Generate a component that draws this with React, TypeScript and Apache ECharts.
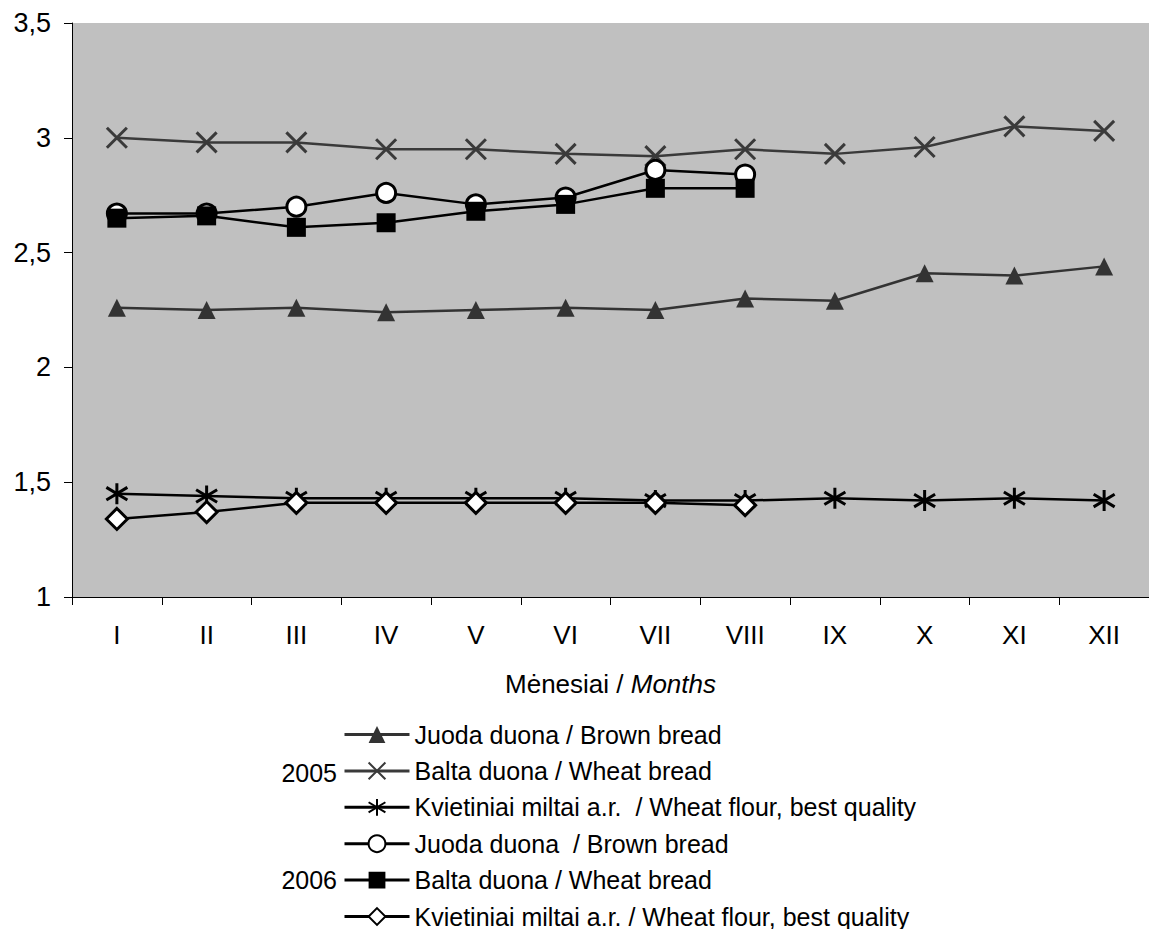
import React, { useEffect, useRef } from "react";
import * as echarts from "echarts";

const months = ["I", "II", "III", "IV", "V", "VI", "VII", "VIII", "IX", "X", "XI", "XII"];
const yTicks = { min: 1, max: 3.5, interval: 0.5 };

const brown2005 = [2.26, 2.25, 2.26, 2.24, 2.25, 2.26, 2.25, 2.30, 2.29, 2.41, 2.40, 2.44];
const wheat2005 = [3.00, 2.98, 2.98, 2.95, 2.95, 2.93, 2.92, 2.95, 2.93, 2.96, 3.05, 3.03];
const flour2005 = [1.45, 1.44, 1.43, 1.43, 1.43, 1.43, 1.42, 1.42, 1.43, 1.42, 1.43, 1.42];
const brown2006 = [2.67, 2.67, 2.70, 2.76, 2.71, 2.74, 2.86, 2.84];
const wheat2006 = [2.65, 2.66, 2.61, 2.63, 2.68, 2.71, 2.78, 2.78];
const flour2006 = [1.34, 1.37, 1.41, 1.41, 1.41, 1.41, 1.41, 1.40];

const names = [
  "Juoda duona / Brown bread",
  "Balta duona / Wheat bread",
  "Kvietiniai miltai a.r.  / Wheat flour, best quality",
  "Juoda duona  / Brown bread",
  "Balta duona / Wheat bread ",
  "Kvietiniai miltai a.r. / Wheat flour, best quality",
];
const yearLabels = ["2005", "2006"];

const FONT = '"Liberation Sans", Arial, sans-serif';
const X_PATH = "path://M0,0 L20,20 M20,0 L0,20";
const AST_PATH = "path://M10,0 L10,20 M1.5,4 L18.5,16 M1.5,16 L18.5,4";

export default function App() {
  const ref = useRef<HTMLDivElement>(null);
  useEffect(() => {
    if (!ref.current) return;
    const chart = echarts.init(ref.current, null, { renderer: "svg" });
    const mk = (
      name: string,
      data: number[],
      symbol: string,
      size: number,
      lineColor: string,
      fill: string,
      border: string,
      borderWidth: number
    ) => ({
      name,
      type: "line",
      data,
      symbol,
      symbolSize: size,
      showAllSymbol: true,
      lineStyle: { color: lineColor, width: 2.5 },
      itemStyle: { color: fill, borderColor: border, borderWidth },
      emphasis: { disabled: true },
      z: 2,
    });
    chart.setOption({
      animation: false,
      backgroundColor: "#ffffff",
      grid: {
        left: 72,
        top: 23,
        width: 1080,
        height: 574,
        show: true,
        backgroundColor: "#c0c0c0",
        borderWidth: 0,
      },
      xAxis: {
        type: "category",
        data: months,
        boundaryGap: true,
        axisLine: { show: true, lineStyle: { color: "#000", width: 1 } },
        axisTick: { show: true, length: 8, lineStyle: { color: "#000" } },
        axisLabel: { color: "#000", fontSize: 26, fontFamily: FONT, margin: 25 },
        splitLine: { show: false },
        name: "Mėnesiai / {i|Months}",
        nameLocation: "middle",
        nameGap: 74,
        nameTextStyle: {
          color: "#000",
          fontSize: 26,
          fontFamily: FONT,
          rich: { i: { fontStyle: "italic", fontSize: 26, fontFamily: FONT, color: "#000" } },
        },
      },
      yAxis: {
        type: "value",
        min: yTicks.min,
        max: yTicks.max,
        interval: yTicks.interval,
        axisLine: { show: true, lineStyle: { color: "#000", width: 1 } },
        axisTick: { show: true, length: 8, lineStyle: { color: "#000" } },
        axisLabel: {
          color: "#000",
          fontSize: 27,
          fontFamily: FONT,
          margin: 21,
          formatter: (v: number) => String(v).replace(".", ","),
        },
        splitLine: { show: false },
      },
      legend: {
        orient: "vertical",
        left: 343,
        top: 721.5,
        height: 220,
        padding: 0,
        itemWidth: 65,
        itemHeight: 21,
        itemGap: 10.4,
        selectedMode: false,
        lineStyle: { width: 3 },
        textStyle: { color: "#000", fontSize: 25, fontFamily: FONT, lineHeight: 26 },
        data: names,
      },
      graphic: [
        {
          type: "text",
          right: 1149 - 337,
          top: 773 - 13,
          style: { text: yearLabels[0], fill: "#000", font: `25px ${FONT}`, textAlign: "right" },
        },
        {
          type: "text",
          right: 1149 - 337,
          top: 880 - 13,
          style: { text: yearLabels[1], fill: "#000", font: `25px ${FONT}`, textAlign: "right" },
        },
      ],
      series: [
        mk(names[0], brown2005, "triangle", 18, "#333333", "#333333", "#333333", 0),
        mk(names[1], wheat2005, X_PATH, 20, "#3a3a3a", "#3a3a3a", "#3a3a3a", 3),
        mk(names[2], flour2005, AST_PATH, 21, "#000000", "#000000", "#000000", 3),
        mk(names[3], brown2006, "circle", 19, "#000000", "#ffffff", "#000000", 3),
        mk(names[4], wheat2006, "rect", 19, "#000000", "#000000", "#000000", 0),
        mk(names[5], flour2006, "diamond", 21, "#000000", "#ffffff", "#000000", 3),
      ],
    });
    return () => chart.dispose();
  }, []);
  return (
    <div
      ref={ref}
      style={{ position: "absolute", left: 0, top: 0, width: 1149, height: 929, background: "#fff" }}
    />
  );
}
